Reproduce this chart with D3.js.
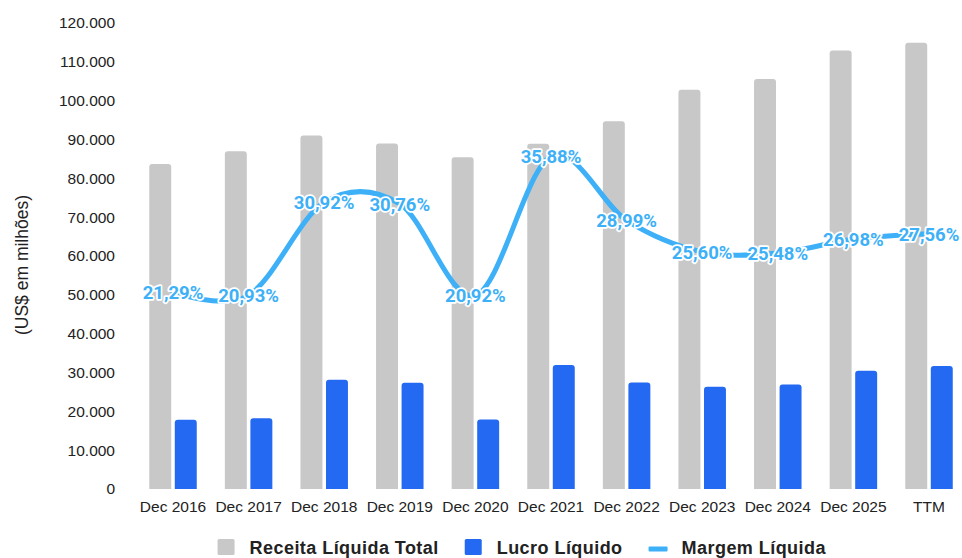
<!DOCTYPE html>
<html>
<head>
<meta charset="utf-8">
<script src="https://cdn.jsdelivr.net/npm/d3@7"></script>
<style>
  html, body { margin: 0; padding: 0; background: #fff; }
  svg { display: block; }
</style>
</head>
<body>
<svg id="chart" width="962" height="558"></svg>
<script>
// Períodos e séries (US$ milhões; margem em %)
const categories = ["Dec 2016", "Dec 2017", "Dec 2018", "Dec 2019", "Dec 2020", "Dec 2021",
                    "Dec 2022", "Dec 2023", "Dec 2024", "Dec 2025", "TTM"];
const receitaLiquida = [83700, 87000, 91000, 89000, 85400, 88900, 94700, 102800, 105600, 112900, 114900];
const lucroLiquido   = [17820, 18210, 28140, 27380, 17870, 31900, 27450, 26320, 26910, 30460, 31670];
const margemLiquida  = [21.29, 20.93, 30.92, 30.76, 20.92, 35.88, 28.99, 25.60, 25.48, 26.98, 27.56];
const yTicks = d3.range(0, 120001, 10000);
const seriesNames = ["Receita Líquida Total", "Lucro Líquido", "Margem Líquida"];

const COLORS = { receita: "#c8c8c8", lucro: "#2369f2", margem: "#3db0f7" };

const svg = d3.select("#chart");

const ptBR = d3.formatLocale({ decimal: ",", thousands: ".", grouping: [3], currency: ["US$", ""] });
const fmtInt = ptBR.format(",d");
const fmtPct = v => ptBR.format(".2f")(v) + "%";

// Escalas
const x = d3.scaleBand().domain(categories).range([135.2, 966.8]).padding(0);
const inner = d3.scaleBand().domain(["receita", "lucro"]).range([-23.75, 23.75]).paddingInner(0.14);
const y = d3.scaleLinear().domain([0, 120000]).range([489, 23]);
const y2 = d3.scaleLinear().domain([0, 50]).range([490, 25]);

// Eixo Y
const yAxis = svg.append("g")
  .attr("transform", "translate(123,0)")
  .call(d3.axisLeft(y).tickValues(yTicks).tickFormat(fmtInt).tickSize(0).tickPadding(8));
yAxis.select(".domain").remove();
yAxis.selectAll("text")
  .attr("font-family", "Liberation Sans, Arial, sans-serif")
  .attr("font-size", "15.5px")
  .attr("fill", "#222");

// Título do eixo Y
svg.append("text")
  .attr("transform", "translate(28,265) rotate(-90)")
  .attr("text-anchor", "middle")
  .attr("font-family", "Liberation Sans, Arial, sans-serif")
  .attr("font-size", "17.5px")
  .attr("fill", "#222")
  .text("(US$ em milhões)");

// Eixo X
const xAxis = svg.append("g")
  .attr("transform", "translate(0,489)")
  .call(d3.axisBottom(x).tickSize(0).tickPadding(12));
xAxis.select(".domain").remove();
xAxis.selectAll("text")
  .attr("font-family", "Liberation Sans, Arial, sans-serif")
  .attr("font-size", "15.5px")
  .attr("fill", "#222");

// Barra com cantos superiores arredondados
function topRoundedBar(x0, w, yTop, yBase, r) {
  const h = yBase - yTop;
  r = Math.min(r, w / 2, h);
  return `M${x0},${yBase}V${yTop + r}Q${x0},${yTop} ${x0 + r},${yTop}` +
         `H${x0 + w - r}Q${x0 + w},${yTop} ${x0 + w},${yTop + r}V${yBase}Z`;
}

const rows = categories.map((c, i) => ({
  cat: c, receita: receitaLiquida[i], lucro: lucroLiquido[i], margem: margemLiquida[i]
}));

const groups = svg.append("g").selectAll("g")
  .data(rows).join("g")
  .attr("transform", d => `translate(${x(d.cat) + x.bandwidth() / 2},0)`);

groups.selectAll("path")
  .data(d => ["receita", "lucro"].map(k => ({ key: k, value: d[k] })))
  .join("path")
  .attr("d", d => topRoundedBar(inner(d.key), inner.bandwidth(), y(d.value), y(0), 3))
  .attr("fill", d => COLORS[d.key]);

// Linha da margem líquida
const line = d3.line()
  .x(d => x(d.cat) + x.bandwidth() / 2)
  .y(d => y2(d.margem))
  .curve(d3.curveCardinal.tension(0));

svg.append("path")
  .datum(rows)
  .attr("d", line)
  .attr("fill", "none")
  .attr("stroke", COLORS.margem)
  .attr("stroke-width", 5)
  .attr("stroke-linecap", "round");

// Rótulos da margem
svg.append("g").selectAll("text")
  .data(rows).join("text")
  .attr("x", d => x(d.cat) + x.bandwidth() / 2)
  .attr("y", d => y2(d.margem) + 0.5)
  .attr("dy", "0.35em")
  .attr("text-anchor", "middle")
  .attr("font-family", "Roboto, sans-serif")
  .attr("font-weight", "bold")
  .attr("font-size", "18.5px")
  .attr("fill", COLORS.margem)
  .attr("stroke", "#fff")
  .attr("stroke-width", 3.5)
  .attr("stroke-linejoin", "round")
  .attr("paint-order", "stroke")
  .text(d => fmtPct(d.margem));

// Legenda
const legend = svg.append("g");
const legendKeys = ["receita", "lucro", "margem"];
const items = legend.selectAll("g").data(seriesNames).join("g");
items.each(function (name, i) {
  const g = d3.select(this);
  const key = legendKeys[i];
  if (key === "margem") {
    g.append("rect").attr("x", 0).attr("y", 546.5).attr("width", 19).attr("height", 5)
      .attr("rx", 1).attr("fill", COLORS[key]);
  } else {
    g.append("rect").attr("x", 0).attr("y", 539).attr("width", 17).attr("height", 16)
      .attr("rx", 1.5).attr("fill", COLORS[key]);
  }
  g.append("text")
    .attr("x", key === "margem" ? 33 : 32)
    .attr("y", 553.5)
    .attr("font-family", "Liberation Sans, Arial, sans-serif")
    .attr("font-weight", "bold")
    .attr("font-size", "18px")
    .attr("letter-spacing", "0.45px")
    .attr("fill", "#222")
    .text(name);
});
let cursor = 0;
const positions = [];
items.each(function () {
  const w = this.getBBox().width;
  positions.push(cursor);
  cursor += w + 26;
});
const totalW = cursor - 26;
const start = 522 - totalW / 2;
items.attr("transform", (d, i) => `translate(${start + positions[i]},0)`);
</script>
</body>
</html>
